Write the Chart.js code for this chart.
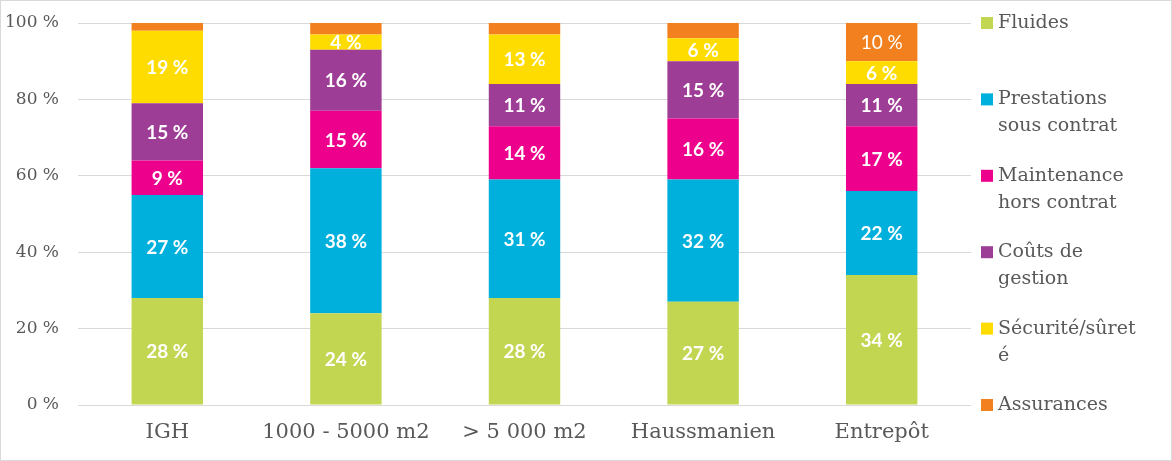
<!DOCTYPE html>
<html>
<head>
<meta charset="utf-8">
<script src="https://cdn.jsdelivr.net/npm/chart.js@4/dist/chart.umd.min.js"></script>
<style>
    body { margin: 0; background: #fff; }
    #wrap { width: 1170px; height: 459px; border: 1px solid #d9d9d9; }
</style>
</head>
<body>
<div id="wrap"><canvas id="myChart" width="1170" height="459"></canvas></div>
<script>
var categories = ['IGH', '1000 - 5000 m2', '> 5 000 m2', 'Haussmanien', 'Entrepôt'];
var seriesNames = ['Fluides', 'Prestations sous contrat', 'Maintenance hors contrat', 'Coûts de gestion', 'Sécurité/sûreté', 'Assurances'];
var legendLines = [['Fluides'], ['Prestations', 'sous contrat'], ['Maintenance', 'hors contrat'], ['Coûts de', 'gestion'], ['Sécurité/sûret', 'é'], ['Assurances']];
var fluides = [28, 24, 28, 27, 34];
var prestations = [27, 38, 31, 32, 22];
var maintenance = [9, 15, 14, 16, 17];
var couts = [15, 16, 11, 15, 11];
var securite = [19, 4, 13, 6, 6];
var assurances = [2, 3, 3, 4, 10];
var yTicks = [0, 20, 40, 60, 80, 100];

var colors = ['#c3d652', '#00b0dc', '#ec008c', '#9e3d96', '#ffdc00', '#f2801f'];
var values = [fluides, prestations, maintenance, couts, securite, assurances];

var grey = '#595959';

var datasets = [];
for (var i = 0; i < values.length; i++) {
    datasets.push({
        label: seriesNames[i],
        data: values[i],
        backgroundColor: colors[i],
        borderWidth: 0,
        barPercentage: 0.4,
        categoryPercentage: 1
    });
}

// labels inside the bars (small Assurances values are not labelled)
var barLabels = {
    id: 'barLabels',
    afterDatasetsDraw: function (chart) {
        var ctx = chart.ctx;
        ctx.save();
        ctx.textAlign = 'center';
        ctx.textBaseline = 'middle';
        chart.data.datasets.forEach(function (ds, di) {
            var meta = chart.getDatasetMeta(di);
            meta.data.forEach(function (bar, j) {
                var v = ds.data[j];
                if (di == 5 && v < 10) return;
                var p = bar.getProps(['x', 'y', 'base'], true);
                ctx.font = (di == 5 ? '' : 'bold ') + '19px Lato';
                ctx.fillStyle = '#ffffff';
                ctx.fillText(v + ' %', p.x, (p.y + p.base) / 2 + 1);
            });
        });
        ctx.restore();
    }
};

// legend on the right, one entry per gridline
var sideLegend = {
    id: 'sideLegend',
    afterDraw: function (chart) {
        var ctx = chart.ctx;
        var y = chart.scales.y;
        var x0 = chart.chartArea.right + 10;
        ctx.save();
        ctx.font = '19px "DejaVu Serif"';
        ctx.textBaseline = 'middle';
        ctx.textAlign = 'left';
        for (var i = 0; i < legendLines.length; i++) {
            var yy = y.getPixelForValue(100 - i * 20);
            ctx.fillStyle = colors[i];
            ctx.fillRect(x0, yy - 6, 12, 12);
            ctx.fillStyle = grey;
            for (var k = 0; k < legendLines[i].length; k++) {
                ctx.fillText(legendLines[i][k], x0 + 17, yy + k * 27);
            }
        }
        ctx.restore();
    }
};

var ctx = document.getElementById('myChart');
var myChart = new Chart(ctx, {
    type: 'bar',
    data: {
        labels: categories,
        datasets: datasets
    },
    options: {
        responsive: false,
        animation: false,
        layout: { padding: { top: 22, right: 200, left: 0, bottom: 0 } },
        plugins: {
            legend: { display: false },
            tooltip: { enabled: false }
        },
        scales: {
            x: {
                stacked: true,
                grid: { display: false, drawTicks: false },
                border: { display: false },
                ticks: {
                    color: grey,
                    font: { family: 'DejaVu Serif', size: 21 },
                    padding: 15,
                    maxRotation: 0,
                    minRotation: 0,
                    autoSkip: false
                },
                afterFit: function (s) { s.height = 55; }
            },
            y: {
                stacked: true,
                min: 0,
                max: 100,
                afterBuildTicks: function (s) {
                    s.ticks = yTicks.map(function (v) { return { value: v }; });
                },
                grid: { color: '#d9d9d9', lineWidth: 1, drawTicks: false },
                border: { display: false },
                ticks: {
                    color: grey,
                    font: { family: 'DejaVu Serif', size: 17 },
                    padding: 19,
                    callback: function (v) { return v + ' %'; }
                },
                afterFit: function (s) {
                    s.width = 77;
                    s.paddingTop = 0;
                    s.paddingBottom = 0;
                }
            }
        }
    },
    plugins: [barLabels, sideLegend]
});
</script>
</body>
</html>
